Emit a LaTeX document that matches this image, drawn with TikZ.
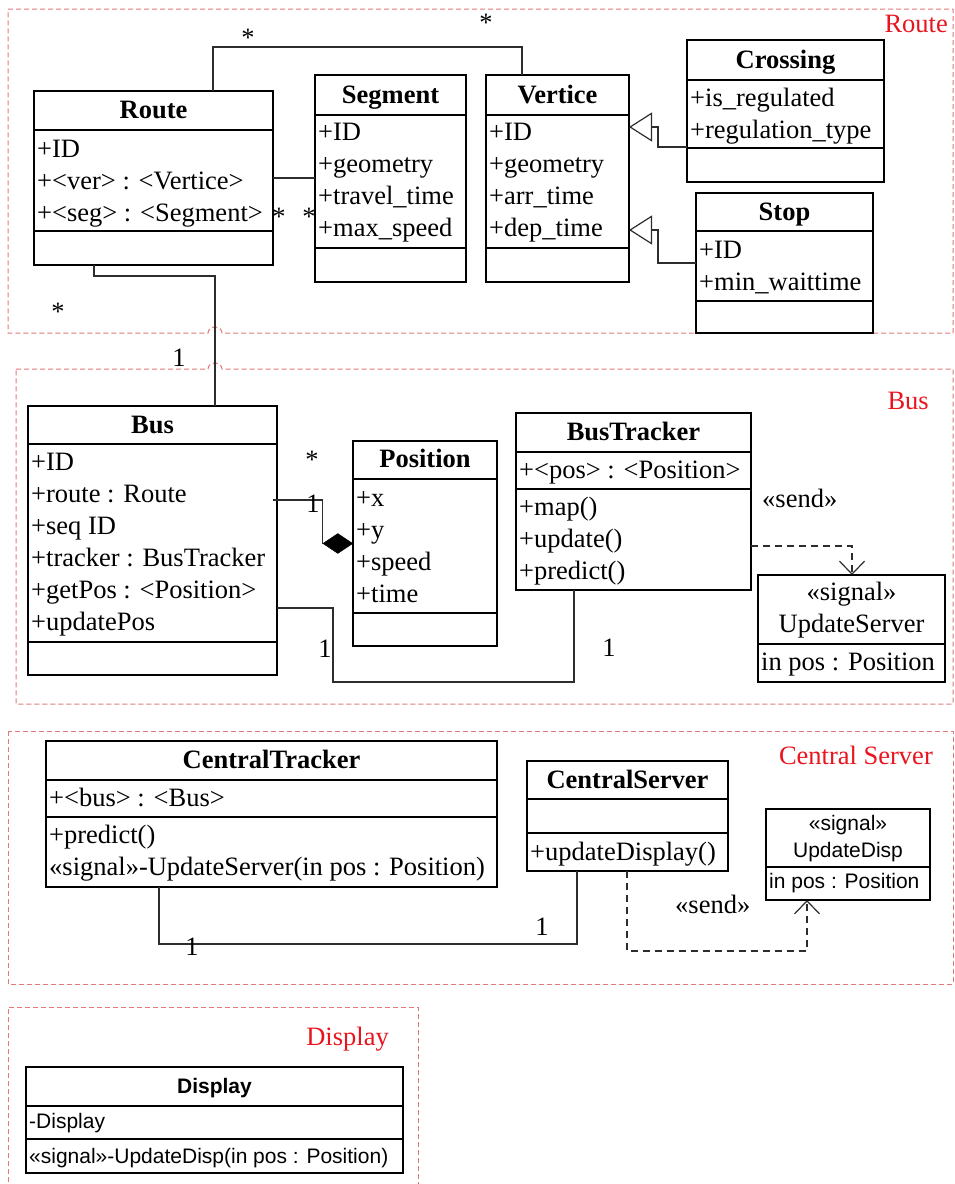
\documentclass[tikz,border=0pt]{standalone}
\usepackage{fontspec}
\setmainfont{Liberation Serif}
\newfontfamily\arialf{Liberation Sans}
\usetikzlibrary{arrows.meta,calc,fit,shapes.geometric}
\definecolor{framered}{RGB}{228,120,120}
\definecolor{labred}{RGB}{232,20,30}
\definecolor{lineg}{RGB}{45,45,45}
\newcommand\tnr{\fontsize{26.5}{32}\selectfont}
\newcommand\tnrb{\fontsize{26.5}{32}\selectfont\bfseries}
\newcommand\ars{\arialf\fontsize{21}{25}\selectfont}
\newcommand\arsb{\arialf\fontsize{21}{25}\selectfont\bfseries}
\newcommand\umlclass[5]{%
  \coordinate (#1-nw) at (#2,#3);
  \coordinate (#1-se) at (#4,#5);
  \node[classbox, fit=(#1-nw)(#1-se)] (#1) {};}
\tikzset{
  classbox/.style={draw=black, line width=1.8pt, inner sep=0pt, outer sep=0pt},
  sepline/.style={draw=black, line width=1.6pt},
  conn/.style={draw=lineg, line width=1.2pt},
  depline/.style={draw=lineg, line width=1.2pt, dash pattern=on 7pt off 5pt, -{Straight Barb[length=13pt,width=25pt]}},
  inherit/.style={conn, -{Triangle[open,length=23pt,width=29pt,fill=white]}},
  frame/.style={draw=framered, line width=1pt, dash pattern=on 5pt off 3pt},
  attr/.style={anchor=base west, inner sep=0pt, font=\tnr},
  head/.style={anchor=base, inner sep=0pt, font=\tnrb},
  mid/.style={anchor=base, inner sep=0pt, font=\tnr},
  sattr/.style={anchor=base west, inner sep=0pt, font=\ars},
  smid/.style={anchor=base, inner sep=0pt, font=\ars},
  shead/.style={anchor=base, inner sep=0pt, font=\arsb},
  mult/.style={anchor=base, inner sep=0pt, font=\tnr},
  grp/.style={anchor=base east, inner sep=0pt, font=\tnr, text=labred},
}
\begin{document}
\begin{tikzpicture}[x=1pt,y=-1pt]
\useasboundingbox (0,0) rectangle (955,1184);

% ---------- frames ----------
\draw[frame] (8,9) -- (953,9) -- (953,333) -- (222,333)
  arc[start angle=0, end angle=-180, x radius=7, y radius=6] -- (8,333) -- cycle;
\draw[frame] (16,369) -- (208,369)
  arc[start angle=180, end angle=360, x radius=7, y radius=6] -- (953,369) -- (953,704) -- (16,704) -- cycle;
\draw[frame] (8,731) rectangle (953,984);
\draw[frame] (8,1190) -- (8,1007) -- (418,1007) -- (418,1190);

\node[grp] (g-route) at (948,32) {Route};
\node[grp] (g-bus) at (929,409) {Bus};
\node[grp] (g-central) at (933,764) {Central Server};
\node[grp] (g-display) at (389,1045) {Display};

% ---------- Route package ----------
\umlclass{route}{34}{91}{273}{265}
\draw[sepline] (34,130) -- (273,130);
\draw[sepline] (34,231) -- (273,231);
\node[head] (route-h) at (153.5,118) {Route};
\node[attr] (route-a1) at (37,157) {+ID};
\node[attr] (route-a2) at (37,189) {+<ver> : <Vertice>};
\node[attr] (route-a3) at (37,221) {+<seg> : <Segment>};

\umlclass{segment}{315}{75}{466}{282}
\draw[sepline] (315,115) -- (466,115);
\draw[sepline] (315,248) -- (466,248);
\node[head] (segment-h) at (390.5,103) {Segment};
\node[attr] (segment-a1) at (318,140) {+ID};
\node[attr] (segment-a2) at (318,172) {+geometry};
\node[attr] (segment-a3) at (318,204) {+travel\_time};
\node[attr] (segment-a4) at (318,236) {+max\_speed};

\umlclass{vertice}{486}{75}{629}{282}
\draw[sepline] (486,115) -- (629,115);
\draw[sepline] (486,248) -- (629,248);
\node[head] (vertice-h) at (557.5,103) {Vertice};
\node[attr] (vertice-a1) at (489,140) {+ID};
\node[attr] (vertice-a2) at (489,172) {+geometry};
\node[attr] (vertice-a3) at (489,204) {+arr\_time};
\node[attr] (vertice-a4) at (489,236) {+dep\_time};

\umlclass{crossing}{687}{40}{884}{182}
\draw[sepline] (687,80) -- (884,80);
\draw[sepline] (687,148) -- (884,148);
\node[head] (crossing-h) at (785.5,68) {Crossing};
\node[attr] (crossing-a1) at (690,106) {+is\_regulated};
\node[attr] (crossing-a2) at (690,138) {+regulation\_type};

\umlclass{stop}{696}{193}{873}{333}
\draw[sepline] (696,231) -- (873,231);
\draw[sepline] (696,301) -- (873,301);
\node[head] (stop-h) at (784.5,220) {Stop};
\node[attr] (stop-a1) at (699,258) {+ID};
\node[attr] (stop-a2) at (699,290) {+min\_waittime};

% ---------- Bus package ----------
\umlclass{bus}{28}{406}{277}{675}
\draw[sepline] (28,444) -- (277,444);
\draw[sepline] (28,642) -- (277,642);
\node[head] (bus-h) at (152.5,433) {Bus};
\node[attr] (bus-a1) at (31,470) {+ID};
\node[attr] (bus-a2) at (31,502) {+route : Route};
\node[attr] (bus-a3) at (31,534) {+seq ID};
\node[attr] (bus-a4) at (31,566) {+tracker : BusTracker};
\node[attr] (bus-a5) at (31,598) {+getPos : <Position>};
\node[attr] (bus-a6) at (31,630) {+updatePos};

\umlclass{position}{353}{441}{497}{646}
\draw[sepline] (353,479) -- (497,479);
\draw[sepline] (353,613) -- (497,613);
\node[head] (position-h) at (425,467) {Position};
\node[attr] (position-a1) at (356,506) {+x};
\node[attr] (position-a2) at (356,538) {+y};
\node[attr] (position-a3) at (356,570) {+speed};
\node[attr] (position-a4) at (356,602) {+time};

\umlclass{bustracker}{516}{413}{751}{590}
\draw[sepline] (516,452) -- (751,452);
\draw[sepline] (516,489) -- (751,489);
\node[head] (bustracker-h) at (633.5,440) {BusTracker};
\node[attr] (bustracker-a1) at (519,478) {+<pos> : <Position>};
\node[attr] (bustracker-m1) at (519,515) {+map()};
\node[attr] (bustracker-m2) at (519,547) {+update()};
\node[attr] (bustracker-m3) at (519,579) {+predict()};

\umlclass{updateserver}{758}{575}{945}{682}
\draw[sepline] (758,644) -- (945,644);
\node[mid] (updateserver-s) at (851.5,600) {«signal»};
\node[mid] (updateserver-h) at (851.5,632) {UpdateServer};
\node[attr] (updateserver-a1) at (761,670) {in pos : Position};

% ---------- Central Server package ----------
\umlclass{centraltracker}{46}{741}{497}{887}
\draw[sepline] (46,780) -- (497,780);
\draw[sepline] (46,817) -- (497,817);
\node[head] (centraltracker-h) at (271.5,768) {CentralTracker};
\node[attr] (centraltracker-a1) at (49,806) {+<bus> : <Bus>};
\node[attr] (centraltracker-m1) at (49,843) {+predict()};
\node[attr] (centraltracker-m2) at (49,875) {«signal»-UpdateServer(in pos : Position)};

\umlclass{centralserver}{527}{761}{728}{871}
\draw[sepline] (527,799) -- (728,799);
\draw[sepline] (527,833) -- (728,833);
\node[head] (centralserver-h) at (627.5,788) {CentralServer};
\node[attr] (centralserver-m1) at (530,860) {+updateDisplay()};

\umlclass{updatedisp}{766}{809}{930}{900}
\draw[sepline] (766,867) -- (930,867);
\node[smid] (updatedisp-s) at (848,830) {«signal»};
\node[smid] (updatedisp-h) at (848,857) {UpdateDisp};
\node[sattr] (updatedisp-a1) at (769,888) {in pos : Position};

% ---------- Display package ----------
\umlclass{display}{26}{1067}{403}{1173}
\draw[sepline] (26,1106) -- (403,1106);
\draw[sepline] (26,1139) -- (403,1139);
\node[shead] (display-h) at (214.5,1093) {Display};
\node[sattr] (display-a1) at (29,1128) {-Display};
\node[sattr] (display-m1) at (29,1163) {«signal»-UpdateDisp(in pos : Position)};

% ---------- connectors ----------
% Route -- Vertice
\draw[conn] ($(route.north west)+(179,0)$) -- ++(0,-44) -| ($(vertice.north west)+(36,0)$);
\node[mult] (m-rv1) at (248,46) {*};
\node[mult] (m-rv2) at (486,31) {*};
% Route -- Segment
\draw[conn] (route.east) -- (route.east -| segment.west);
\node[mult] (m-rs1) at (279,225) {*};
\node[mult] (m-rs2) at (309,225) {*};
% Route -- Bus
\draw[conn] ($(route.south west)+(60,0)$) -- ++(0,11) -| ($(bus.north west)+(187,0)$);
\node[mult] (m-rb1) at (58,320) {*};
\node[mult] (m-rb2) at (179,366) {1};
% Crossing, Stop -> Vertice
\draw[inherit] ($(crossing.south west)+(0,-35)$) -- ++(-29,0) |- ($(vertice.north east)+(0,52)$);
\draw[inherit] ($(stop.north west)+(0,70)$) -- ++(-38,0) |- ($(vertice.north east)+(0,155)$);
% Bus -- Position (composition)
\node[diamond, draw=black, fill=black, inner sep=0pt, minimum width=30pt, minimum height=20pt, anchor=east] (comp) at (position.west) {};
\draw[conn] ($(bus.north east)+(-4,94)$) -| (comp.west);
\node[mult] (m-bp1) at (312,468) {*};
\node[mult] (m-bp2) at (313,512) {1};
% Bus -- BusTracker
\draw[conn] ($(bus.north east)+(0,202)$) -- ++(56,0) -- ++(0,74) -| ($(bustracker.south west)+(58,0)$);
\node[mult] (m-bt1) at (325,657) {1};
\node[mult] (m-bt2) at (609,656) {1};
% BusTracker --> UpdateServer
\draw[depline] ($(bustracker.north east)+(0,133)$) -| ($(updateserver.north west)+(94,0)$);
\node[attr] (send1) at (762,507) {«send»};
% CentralTracker -- CentralServer
\draw[conn] ($(centraltracker.south west)+(113,0)$) -- ++(0,57) -| ($(centralserver.south west)+(50,0)$);
\node[mult] (m-cc1) at (192,955) {1};
\node[mult] (m-cc2) at (542,935) {1};
% CentralServer --> UpdateDisp
\draw[depline] ($(centralserver.south west)+(100,0)$) -- ++(0,80) -| ($(updatedisp.south west)+(41,0)$);
\node[attr] (send2) at (675,913) {«send»};
\end{tikzpicture}
\end{document}
